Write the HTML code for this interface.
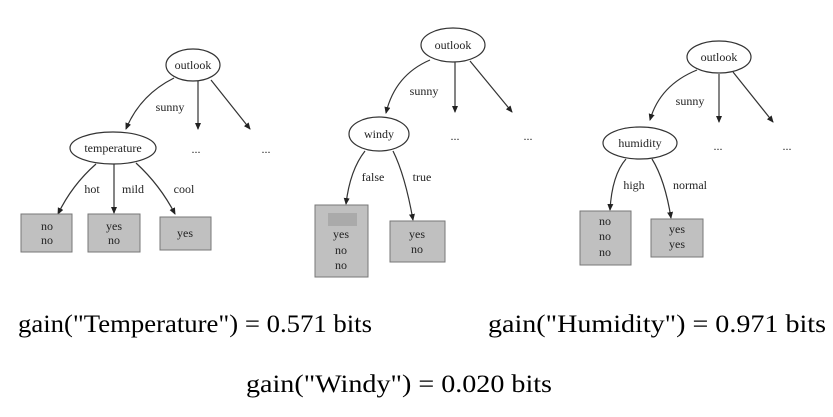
<!DOCTYPE html>
<html><head><meta charset="utf-8"><style>
html,body{margin:0;padding:0;background:#fff;}
svg{display:block;}
text{font-family:"Liberation Serif",serif;fill:#222;}
.s{font-size:12px;}
.f{font-size:25px;fill:#000;}
</style></head><body>
<svg width="833" height="417" viewBox="0 0 833 417" xmlns="http://www.w3.org/2000/svg">
<defs><marker id="a" markerWidth="8" markerHeight="8" refX="6" refY="3" orient="auto" markerUnits="userSpaceOnUse"><path d="M0,0 L7,3 L0,6 Z" fill="#222"/></marker></defs>
<g stroke="#333" stroke-width="1.2" fill="none">
<ellipse cx="193" cy="65" rx="27" ry="16" fill="#fff"/>
<path d="M174,78 Q140,95 126,129" marker-end="url(#a)"/>
<path d="M198,81 L198,129" marker-end="url(#a)"/>
<path d="M211,80 L250,129" marker-end="url(#a)"/>
<ellipse cx="113" cy="148" rx="43" ry="16" fill="#fff"/>
<path d="M96,164 Q72,185 58,214" marker-end="url(#a)"/>
<path d="M114,164 L114,213" marker-end="url(#a)"/>
<path d="M136,163 Q160,185 175,214" marker-end="url(#a)"/>
<ellipse cx="453" cy="45" rx="32" ry="17" fill="#fff"/>
<path d="M430,60 Q395,75 386,113" marker-end="url(#a)"/>
<path d="M455,62 L455,112" marker-end="url(#a)"/>
<path d="M470,61 L512,112" marker-end="url(#a)"/>
<ellipse cx="379" cy="134" rx="30" ry="17" fill="#fff"/>
<path d="M365,151 Q350,170 346,204" marker-end="url(#a)"/>
<path d="M393,151 Q405,175 413,220" marker-end="url(#a)"/>
<ellipse cx="719" cy="57" rx="32" ry="16" fill="#fff"/>
<path d="M697,70 Q660,85 650,120" marker-end="url(#a)"/>
<path d="M719,74 L719,122" marker-end="url(#a)"/>
<path d="M733,72 L773,122" marker-end="url(#a)"/>
<ellipse cx="640" cy="143" rx="37" ry="16" fill="#fff"/>
<path d="M626,159 Q612,175 610,210" marker-end="url(#a)"/>
<path d="M652,159 Q665,180 671,218" marker-end="url(#a)"/>
</g>
<g fill="#c0c0c0" stroke="#777" stroke-width="1">
<rect x="21" y="214" width="51" height="38"/>
<rect x="88" y="214" width="52" height="38"/>
<rect x="160" y="217" width="51" height="33"/>
<rect x="315" y="205" width="53" height="72"/>
<rect x="390" y="221" width="55" height="41"/>
<rect x="580" y="211" width="51" height="54"/>
<rect x="651" y="219" width="52" height="38"/>
</g>
<rect x="328" y="213" width="29" height="13" fill="#aaa"/>
<g class="s" text-anchor="middle">
<text x="193" y="69">outlook</text>
<text x="170" y="111">sunny</text>
<text x="113" y="152">temperature</text>
<text x="196" y="153">...</text><text x="266" y="153">...</text>
<text x="92" y="193">hot</text><text x="133" y="193">mild</text><text x="184" y="193">cool</text>
<text x="47" y="230">no</text><text x="47" y="244">no</text>
<text x="114" y="230">yes</text><text x="114" y="244">no</text>
<text x="185" y="237">yes</text>
<text x="453" y="49">outlook</text>
<text x="424" y="95">sunny</text>
<text x="379" y="138">windy</text>
<text x="455" y="140">...</text><text x="528" y="140">...</text>
<text x="373" y="181">false</text><text x="422" y="181">true</text>
<text x="341" y="238">yes</text><text x="341" y="254">no</text><text x="341" y="269">no</text>
<text x="417" y="238">yes</text><text x="417" y="253">no</text>
<text x="719" y="61">outlook</text>
<text x="690" y="105">sunny</text>
<text x="640" y="147">humidity</text>
<text x="718" y="150">...</text><text x="787" y="150">...</text>
<text x="634" y="189">high</text><text x="690" y="189">normal</text>
<text x="605" y="225">no</text><text x="605" y="240">no</text><text x="605" y="256">no</text>
<text x="677" y="233">yes</text><text x="677" y="248">yes</text>
</g>
<text class="f" x="18" y="332" textLength="354" lengthAdjust="spacingAndGlyphs">gain("Temperature") = 0.571 bits</text>
<text class="f" x="488" y="332" textLength="338" lengthAdjust="spacingAndGlyphs">gain("Humidity") = 0.971 bits</text>
<text class="f" x="246" y="392" textLength="306" lengthAdjust="spacingAndGlyphs">gain("Windy") = 0.020 bits</text>
</svg>
</body></html>
